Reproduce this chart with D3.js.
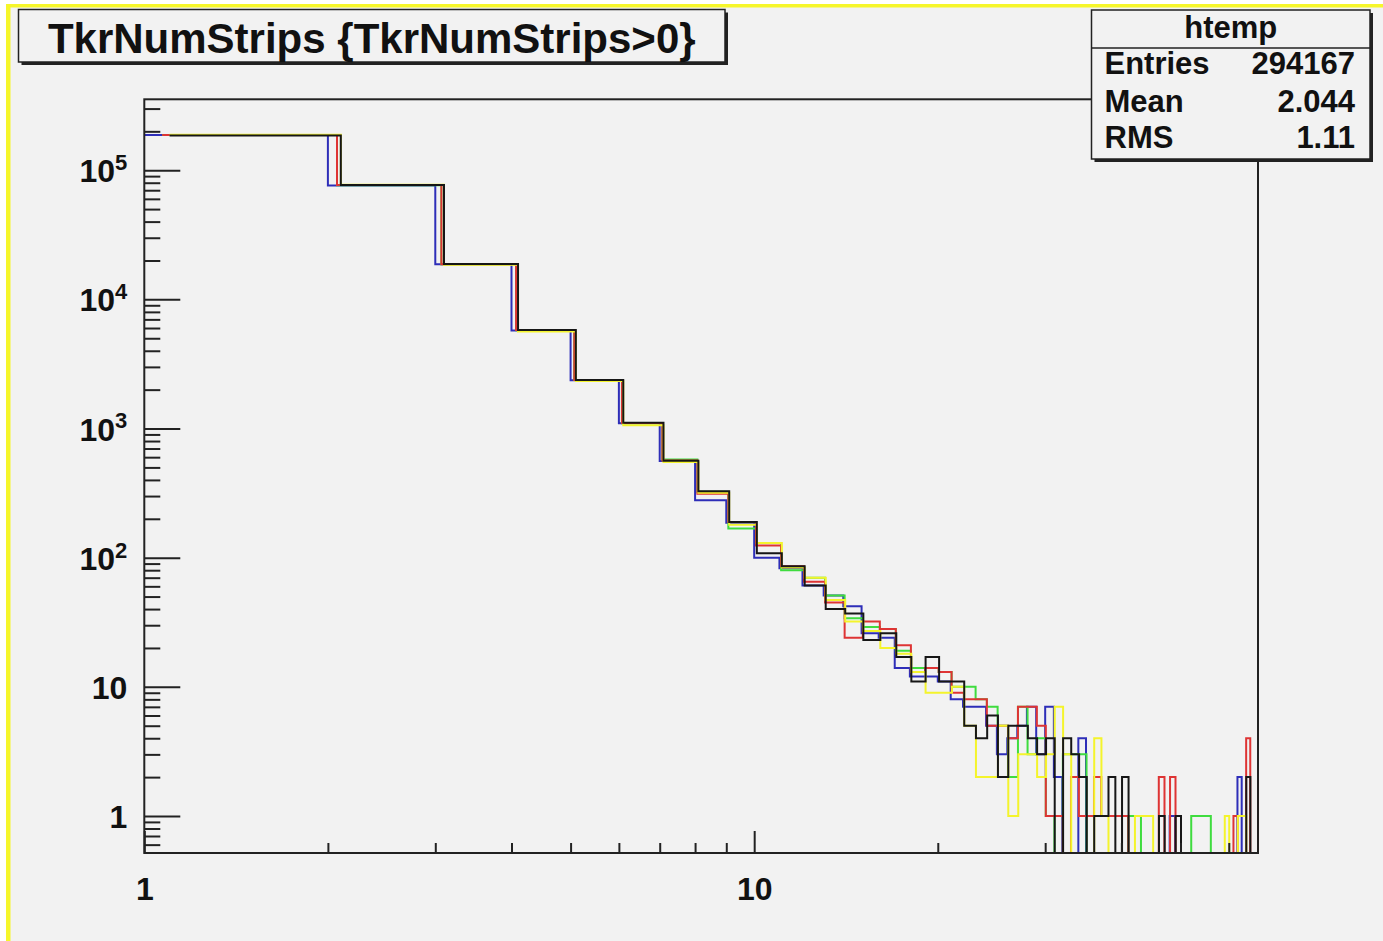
<!DOCTYPE html>
<html>
<head>
<meta charset="utf-8">
<title>TkrNumStrips</title>
<script src="https://cdn.jsdelivr.net/npm/d3@7"></script>
<style>
  html, body { margin: 0; padding: 0; background: #ffffff; }
  svg text { font-family: "Liberation Sans", Arial, Helvetica, sans-serif; font-weight: bold; fill: #111; }
</style>
</head>
<body>
<div id="chart"></div>
<script>
// ---- data ----
const titleText = "TkrNumStrips {TkrNumStrips>0}";
const statsTitle = "htemp";
const statsLabels = ["Entries", "Mean", "RMS"];
const statsValues = ["294167", "2.044", "1.11"];

// low edges of the unit-width bins, last bin ends at 67
const binLowEdges = [1, 2, 3, 4, 5, 6, 7, 8, 9, 10, 11, 12, 13, 14, 15, 16, 17, 18, 19, 20,
  21, 22, 23, 24, 25, 26, 27, 28, 29, 30, 31, 32, 33, 34, 35, 36, 37, 38, 39, 40,
  41, 42, 43, 44, 45, 46, 47, 48, 49, 50, 51, 52, 53, 54, 55, 56, 57, 58, 59, 60,
  61, 62, 63, 64, 65, 66];
const binWidth = 1;

const countsBlue = [187000, 76000, 18700, 5750, 2360, 1100, 560, 279, 186, 100,
  83, 61, 51, 42, 26, 24, 14, 12, 12, 11,
  8, 7, 7, 5, 3, 4, 5, 7, 3, 7,
  2, 0, 0, 4, 0, 0, 0, 0, 0, 0,
  0, 0, 0, 0, 0, 0, 0, 1, 0, 0,
  0, 0, 0, 0, 0, 0, 0, 0, 0, 0,
  0, 2, 0, 0, 0, 0];
const countsGreen = [187000, 76500, 18700, 5760, 2370, 1100, 575, 324, 168, 130,
  80, 70, 51, 34, 29, 28, 19, 14, 14, 13,
  10, 10, 8, 7, 5, 2, 7, 3, 4, 1,
  0, 3, 3, 3, 0, 0, 0, 0, 0, 0,
  1, 1, 0, 0, 0, 0, 0, 0, 0, 0,
  0, 1, 1, 1, 1, 0, 0, 0, 0, 0,
  0, 0, 0, 0, 0, 0];
const countsRed = [187500, 76800, 18700, 5780, 2370, 1105, 565, 312, 189, 124,
  86, 65, 45, 24, 32, 28, 21, 13, 14, 13,
  9, 8, 8, 5, 5, 4, 7, 7, 5, 1,
  1, 0, 2, 1, 1, 2, 1, 1, 1, 1,
  0, 0, 0, 0, 0, 2, 0, 2, 0, 0,
  0, 0, 0, 0, 0, 0, 0, 0, 0, 0,
  1, 0, 0, 4, 0, 0];
const countsYellow = [188500, 77000, 18500, 5650, 2330, 1060, 550, 318, 180, 130,
  84, 70, 47, 32, 27, 20, 18, 13, 9, 9,
  10, 5, 2, 2, 5, 1, 3, 3, 2, 3,
  7, 3, 0, 0, 0, 4, 1, 0, 0, 0,
  0, 1, 1, 1, 0, 0, 0, 0, 0, 0,
  0, 0, 0, 0, 0, 0, 0, 0, 1, 0,
  0, 1, 1, 0, 0, 0];
const countsBlack = [186000, 76800, 18760, 5780, 2370, 1110, 562, 327, 189, 108,
  86, 61, 40, 37, 23, 26, 17, 11, 17, 11,
  11, 5, 4, 6, 2, 5, 5, 4, 3, 4,
  0, 4, 3, 2, 0, 1, 1, 2, 0, 2,
  0, 0, 0, 0, 0, 1, 0, 0, 1, 0,
  0, 0, 0, 0, 0, 0, 0, 0, 0, 0,
  0, 0, 0, 2, 0, 0];

const xMajorTicks = [1, 10];
const xMinorTicks = [2, 3, 4, 5, 6, 7, 8, 9, 20, 30, 40, 50, 60];
const yMajorTicks = [1, 10, 100, 1000, 10000, 100000];
const yMinorTicks = [0.6, 0.7, 0.8, 0.9,
  2, 3, 4, 5, 6, 7, 8, 9,
  20, 30, 40, 50, 60, 70, 80, 90,
  200, 300, 400, 500, 600, 700, 800, 900,
  2000, 3000, 4000, 5000, 6000, 7000, 8000, 9000,
  20000, 30000, 40000, 50000, 60000, 70000, 80000, 90000,
  200000, 300000];

// ---- layout ----
const W = 1383, H = 941;
const frame = { left: 144.3, right: 1258, top: 99.3, bottom: 853 };
const yMin = 0.517, yMax = 354000;
const bg = "#f2f2f2", ink = "#222";

const series = [
  { name: "blue", counts: countsBlue, color: "#2e2eb8", shift: 0 },
  { name: "green", counts: countsGreen, color: "#3fdc3f", shift: 0.07 },
  { name: "red", counts: countsRed, color: "#de3434", shift: 0.07 },
  { name: "yellow", counts: countsYellow, color: "#f4f42c", shift: 0.1 },
  { name: "black", counts: countsBlack, color: "#161616", shift: 0.1 }
];

const svg = d3.select("#chart").append("svg")
  .attr("width", W)
  .attr("height", H);

// canvas: white edge, yellow highlight on top/left, grey pad
svg.append("rect").attr("width", W).attr("height", H).attr("fill", "#ffffff");
svg.append("rect").attr("x", 6).attr("y", 4).attr("width", W - 6).attr("height", H - 4).attr("fill", "#f6f62a");
svg.append("rect").attr("x", 10.5).attr("y", 7.5).attr("width", W - 10.5).attr("height", H - 7.5).attr("fill", bg);

// scales
const x = d3.scaleLog().domain([1, 67]).range([frame.left, frame.right]);
const y = d3.scaleLog().domain([yMin, yMax]).range([frame.bottom, frame.top]);

svg.append("clipPath").attr("id", "frameClip")
  .append("rect")
  .attr("x", frame.left).attr("y", frame.top)
  .attr("width", frame.right - frame.left)
  .attr("height", frame.bottom - frame.top);

// histogram outlines
const line = d3.line()
  .x(d => x(d[0]))
  .y(d => y(d[1]));

function stepPoints(counts, shift) {
  const pts = [];
  counts.forEach((c, i) => {
    const lo = binLowEdges[i] + shift;
    const v = Math.max(c, yMin * 0.9); // empty bins drop below the frame
    pts.push([lo, v], [lo + binWidth, v]);
  });
  return pts;
}

const marksG = svg.append("g").attr("clip-path", "url(#frameClip)");
marksG.selectAll("path.hist")
  .data(series)
  .enter().append("path")
  .attr("class", "hist")
  .attr("fill", "none")
  .attr("stroke", d => d.color)
  .attr("stroke-width", 2)
  .attr("stroke-linejoin", "miter")
  .attr("d", d => line(stepPoints(d.counts, d.shift)));

// axes (ROOT style: ticks pointing into the frame)
const axisStyle = g => {
  g.select(".domain").remove();
  g.selectAll(".tick line").attr("stroke", ink).attr("stroke-width", 2);
};

svg.append("g")
  .attr("transform", `translate(${frame.left},0)`)
  .call(d3.axisLeft(y).tickValues(yMinorTicks).tickSizeInner(-16).tickSizeOuter(0).tickFormat(""))
  .call(axisStyle);

const yAxisG = svg.append("g")
  .attr("transform", `translate(${frame.left},0)`)
  .call(d3.axisLeft(y).tickValues(yMajorTicks).tickSizeInner(-36).tickSizeOuter(0).tickPadding(17))
  .call(axisStyle);

yAxisG.selectAll(".tick text")
  .attr("font-size", 32)
  .attr("dy", "0.36em")
  .each(function (d) {
    const t = d3.select(this);
    const p = Math.round(Math.log10(d));
    t.text(null);
    if (p <= 1) {
      t.append("tspan").text(String(d));
    } else {
      t.append("tspan").text("10");
      t.append("tspan").attr("font-size", 22).attr("dy", "-0.55em").text(String(p));
    }
  });

svg.append("g")
  .attr("transform", `translate(0,${frame.bottom})`)
  .call(d3.axisBottom(x).tickValues(xMinorTicks).tickSizeInner(-10).tickSizeOuter(0).tickFormat(""))
  .call(axisStyle);

svg.append("g")
  .attr("transform", `translate(0,${frame.bottom})`)
  .call(d3.axisBottom(x).tickValues(xMajorTicks).tickSizeInner(-22).tickSizeOuter(0).tickPadding(24).tickFormat(d3.format("d")))
  .call(axisStyle)
  .selectAll(".tick text")
  .attr("font-size", 32);

// frame
svg.append("rect")
  .attr("x", frame.left).attr("y", frame.top)
  .attr("width", frame.right - frame.left)
  .attr("height", frame.bottom - frame.top)
  .attr("fill", "none")
  .attr("stroke", ink)
  .attr("stroke-width", 2);

// title pave
const titleBox = { x: 18.5, y: 9.5, w: 706.5, h: 52.5 };
svg.append("rect")
  .attr("x", titleBox.x + 3).attr("y", titleBox.y + 3)
  .attr("width", titleBox.w).attr("height", titleBox.h)
  .attr("fill", ink);
svg.append("rect")
  .attr("x", titleBox.x).attr("y", titleBox.y)
  .attr("width", titleBox.w).attr("height", titleBox.h)
  .attr("fill", bg).attr("stroke", ink).attr("stroke-width", 1.5);
svg.append("text")
  .attr("x", titleBox.x + titleBox.w / 2)
  .attr("y", 53)
  .attr("text-anchor", "middle")
  .attr("font-size", 42)
  .text(titleText);

// stats box
const statsBox = { x: 1091.5, y: 10, w: 278.5, h: 149 };
svg.append("rect")
  .attr("x", statsBox.x + 3).attr("y", statsBox.y + 3)
  .attr("width", statsBox.w).attr("height", statsBox.h)
  .attr("fill", ink);
svg.append("rect")
  .attr("x", statsBox.x).attr("y", statsBox.y)
  .attr("width", statsBox.w).attr("height", statsBox.h)
  .attr("fill", bg).attr("stroke", ink).attr("stroke-width", 1.5);
svg.append("line")
  .attr("x1", statsBox.x).attr("x2", statsBox.x + statsBox.w)
  .attr("y1", 48).attr("y2", 48)
  .attr("stroke", ink).attr("stroke-width", 1.5);
svg.append("text")
  .attr("x", statsBox.x + statsBox.w / 2)
  .attr("y", 38)
  .attr("text-anchor", "middle")
  .attr("font-size", 31)
  .text(statsTitle);

const statsRowY = [74, 112, 148];
const statsRows = svg.selectAll("g.stat")
  .data(statsLabels)
  .enter().append("g")
  .attr("class", "stat");
statsRows.append("text")
  .attr("x", statsBox.x + 13)
  .attr("y", (d, i) => statsRowY[i])
  .attr("font-size", 31)
  .text(d => d);
statsRows.append("text")
  .attr("x", statsBox.x + statsBox.w - 15)
  .attr("y", (d, i) => statsRowY[i])
  .attr("text-anchor", "end")
  .attr("font-size", 31)
  .text((d, i) => statsValues[i]);
</script>
</body>
</html>
